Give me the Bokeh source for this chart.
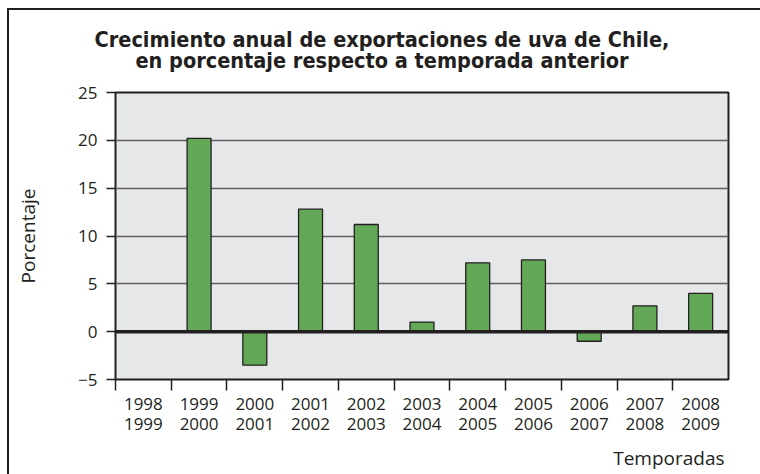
import numpy as np
from bokeh.plotting import figure
from bokeh.layouts import column
from bokeh.models import Range1d, FixedTicker, Span, Title
from bokeh.core.properties import value
from bokeh.embed import file_html
from bokeh.resources import INLINE

# ---- data ----
seasons = ["1998\n1999", "1999\n2000", "2000\n2001", "2001\n2002", "2002\n2003",
           "2003\n2004", "2004\n2005", "2005\n2006", "2006\n2007", "2007\n2008",
           "2008\n2009"]
growth = [np.nan, 20.2, -3.5, 12.8, 11.2, 1.0, 7.2, 7.5, -1.0, 2.7, 4.0]
y_ticks = [-5, 0, 5, 10, 15, 20, 25]
title_lines = ["Crecimiento anual de exportaciones de uva de Chile,",
               "en porcentaje respecto a temporada anterior"]
y_label = "Porcentaje"
x_label = "Temporadas"

n = len(seasons)
centers = [i + 0.5 for i in range(n)]
bounds = list(range(n))

FONT = "Open Sans"
TFONT = "DejaVu Sans Condensed, Roboto Condensed, Roboto, sans-serif"
DARK = "#231f20"

W = 751          # canvas width (page x 9 .. 760)
TOP_H = 70       # title strip height
MAIN_H = 394     # main chart height

# ---- title strip ----
t = figure(width=W, height=TOP_H, output_backend="svg", toolbar_location=None,
           x_range=Range1d(0, W), y_range=Range1d(0, TOP_H),
           x_axis_type=None, y_axis_type=None,
           min_border_left=0, min_border_right=0, min_border_top=0,
           min_border_bottom=0)
t.frame_align = False
t.outline_line_color = None
t.grid.visible = False
t.background_fill_color = "white"
t.border_fill_color = "white"
t.text(x=[W / 2 - 3] * 2, y=[TOP_H - 29, TOP_H - 50], text=title_lines,
       text_align="center", text_baseline="alphabetic",
       text_font=value(TFONT), text_font_style="bold",
       text_font_size="21.5px", text_color=DARK)

# ---- main chart ----
p = figure(width=W, height=MAIN_H, output_backend="svg", toolbar_location=None,
           x_range=Range1d(0, n), y_range=Range1d(-5, 25),
           min_border_left=106, min_border_right=32, min_border_top=12,
           min_border_bottom=94)
p.frame_align = False

p.background_fill_color = "#e6e7e8"
p.border_fill_color = "white"
p.outline_line_color = DARK
p.outline_line_width = 2

p.vbar(x=centers, top=growth, bottom=0, width=0.43,
       fill_color="#62a857", line_color=DARK, line_width=1.3)

p.add_layout(Span(location=0, dimension="width", line_color=DARK, line_width=3.5))

# grid
p.xgrid.visible = False
p.ygrid.ticker = FixedTicker(ticks=y_ticks)
p.ygrid.grid_line_color = "#5e5f61"
p.ygrid.grid_line_width = 1.5

# y axis
p.yaxis.ticker = FixedTicker(ticks=y_ticks)
p.yaxis.axis_line_color = None
p.yaxis.major_tick_in = 0
p.yaxis.major_tick_out = 9
p.yaxis.major_tick_line_color = DARK
p.yaxis.major_tick_line_width = 1.5
p.yaxis.minor_tick_line_color = None
p.yaxis.major_label_text_font = FONT
p.yaxis.major_label_text_font_size = "17px"
p.yaxis.major_label_text_color = DARK
p.yaxis.major_label_standoff = 9
p.yaxis.axis_label = y_label
p.yaxis.axis_label_text_font = FONT
p.yaxis.axis_label_text_font_size = "19px"
p.yaxis.axis_label_text_font_style = "normal"
p.yaxis.axis_label_text_color = DARK
p.yaxis.axis_label_standoff = 34

# x axis
p.xaxis.ticker = FixedTicker(ticks=centers, minor_ticks=bounds)
p.xaxis.major_label_overrides = {c: s for c, s in zip(centers, seasons)}
p.xaxis.axis_line_color = None
p.xaxis.major_tick_line_color = None
p.xaxis.major_tick_in = 0
p.xaxis.major_tick_out = 11
p.xaxis.minor_tick_in = 0
p.xaxis.minor_tick_out = 11
p.xaxis.minor_tick_line_color = DARK
p.xaxis.minor_tick_line_width = 1.5
p.xaxis.major_label_text_font = FONT
p.xaxis.major_label_text_font_size = "17px"
p.xaxis.major_label_text_color = DARK
p.xaxis.major_label_text_line_height = 0.9
p.xaxis.major_label_standoff = 1

p.add_layout(Title(text=x_label, align="right", standoff=8, offset=4,
                   text_font=FONT, text_font_style="normal",
                   text_font_size="19px", text_color=DARK), "below")

layout = column(t, p, spacing=0,
                styles={"margin-left": "7px", "margin-top": "8px",
                        "border-left": "2px solid #231f20",
                        "border-top": "2px solid #231f20"})

open("out.html", "w").write(file_html(layout, INLINE))
